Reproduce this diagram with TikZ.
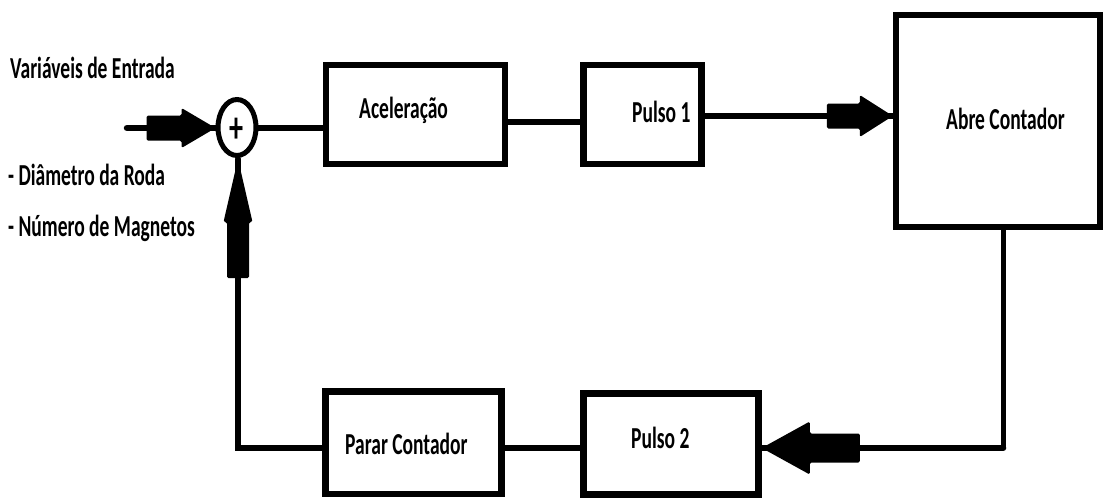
\documentclass[tikz,border=0pt]{standalone}
\usepackage{fontspec}
\setmainfont{Carlito}[FakeStretch=0.64]
\usetikzlibrary{calc,shapes.geometric}
\begin{document}
\begin{tikzpicture}[x=1pt,y=-1pt,
  blk/.style={draw, line width=6.5pt, inner sep=0pt},
  lbl/.style={inner sep=0pt, anchor=base west, font=\bfseries\fontsize{30.5}{34}\selectfont},
  wire/.style={line width=6.5pt, line cap=round},
  fat/.style={fill=black, rounded corners=1.5pt}]
\useasboundingbox[fill=white] (0,0) rectangle (1119,501);

% blocks
\node[blk, minimum width=179pt, minimum height=99pt] (acel) at (415.5,114.5) {};
\node[blk, minimum width=118pt, minimum height=99pt] (p1) at (642.5,114.5) {};
\node[blk, minimum width=204pt, minimum height=212pt] (abre) at (998,121) {};
\node[blk, minimum width=176pt, minimum height=102.5pt] (parar) at (413.5,442.75) {};
\node[blk, minimum width=175pt, minimum height=101pt] (p2) at (671,444) {};
\node[draw, ellipse, line width=5pt, minimum width=38pt, minimum height=56pt, inner sep=0pt] (sum) at (237,127.5) {};

% labels
\node[lbl] (tin) at (10,78) {Variáveis de Entrada};
\node[lbl] (td) at (8,185) {- Diâmetro da Roda};
\node[lbl] (tm) at (8,236) {- Número de Magnetos};
\node[lbl] (tacel) at (359,118) {Aceleração};
\node[lbl] (tp1) at (632,122) {Pulso 1};
\node[lbl] (tabre) at (946,129) {Abre Contador};
\node[lbl] (tparar) at (345,454) {Parar Contador};
\node[lbl] (tp2) at (631,448) {Pulso 2};
\node[inner sep=0pt, font=\bfseries\fontsize{44}{46}\selectfont] (plus) at (237,130) {+};

% connector points
\coordinate (src) at (127,128);
\coordinate (inTip) at (sum.west |- 0,128);
\coordinate (aTip) at (abre.west |- 0,116);
\coordinate (rDown) at (1003,448);
\coordinate (bTip) at (p2.east |- 0,448);
\coordinate (lUp) at (238,448);
\coordinate (upTip) at (238,159);

% forward path
\draw[wire] (src) -- (inTip);
\draw[wire] (sum.east |- 0,128) -- (acel.west |- 0,128);
\draw[wire] (acel.east |- 0,122) -- (p1.west |- 0,122);
\draw[wire] (p1.east |- 0,116) -- (aTip);

% return path
\draw[line width=5pt, line cap=round] (abre.south -| rDown) -- (rDown);
\draw[wire] (rDown) -- (bTip);
\draw[wire] (p2.west |- 0,448) -- (parar.east |- 0,448);
\draw[line width=6pt, line cap=round] (parar.west |- 0,448) -- (lUp) -- (upTip);

% thick arrows
\fill[fat] (inTip) -- ++(-34,-20) -- ++(0,7.5) -- ++(-35,0) -- ++(0,25) -- ++(35,0) -- ++(0,7.5) -- cycle;
\fill[fat] (aTip) -- ++(-33,-21) -- ++(0,8.5) -- ++(-33,0) -- ++(0,25) -- ++(33,0) -- ++(0,8.5) -- cycle;
\fill[fat] (bTip) -- ++(48,-26.5) -- ++(0,12) -- ++(50,0) -- ++(0,29) -- ++(-50,0) -- ++(0,12) -- cycle;
\fill[fat] (upTip) -- ++(-14.5,63) -- ++(3.5,0) -- ++(0,56) -- ++(22,0) -- ++(0,-56) -- ++(3.5,0) -- cycle;
\end{tikzpicture}
\end{document}
